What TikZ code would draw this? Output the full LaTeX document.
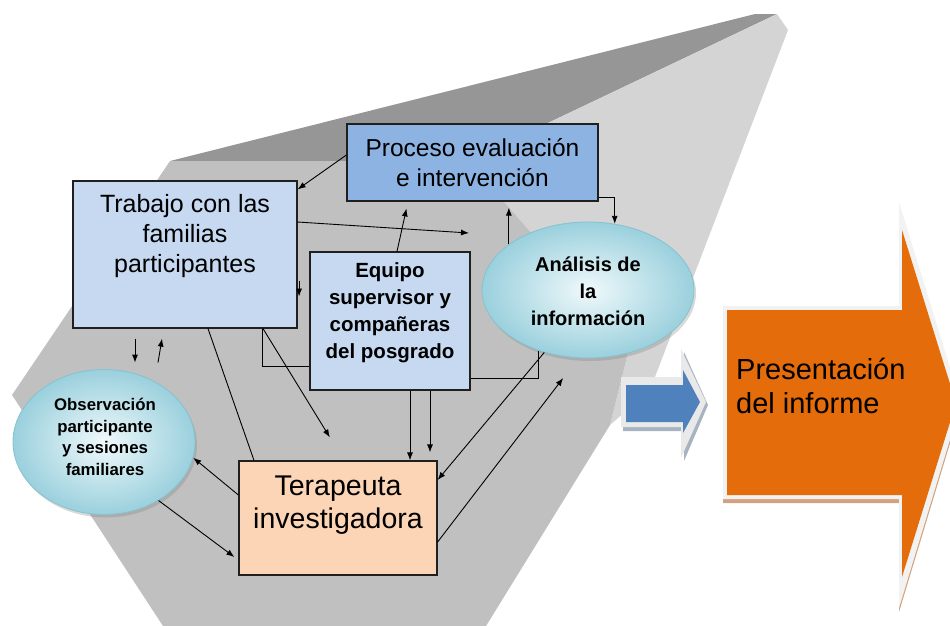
\documentclass[tikz,border=0pt]{standalone}
\usepackage{fontspec}
\setmainfont{Liberation Sans}
\usetikzlibrary{arrows.meta,shapes.geometric,shadows,calc}
\definecolor{gDark}{HTML}{969696}
\definecolor{gMid}{HTML}{C0C0C0}
\definecolor{gLight}{HTML}{D4D4D4}
\definecolor{boxLight}{HTML}{C6D9F1}
\definecolor{boxBlue}{HTML}{8DB3E2}
\definecolor{boxPeach}{HTML}{FBD5B5}
\definecolor{bubIn}{HTML}{F0F9FB}
\definecolor{bubOut}{HTML}{9AD0DD}
\definecolor{bubEdge}{HTML}{86C2D0}
\definecolor{arrBlue}{HTML}{4F81BD}
\definecolor{arrOrange}{HTML}{E46C0A}
\definecolor{arrTan}{HTML}{D2A27E}
\definecolor{glow}{HTML}{F2F2F2}
\begin{document}
\begin{tikzpicture}[x=1pt,y=-1pt,
  box/.style={rectangle, draw=black!88, line width=1.2pt, inner sep=0pt},
  txt/.style={align=center, inner sep=0pt, text=black},
  bubble/.style={ellipse, draw=bubEdge, line width=0.8pt, inner sep=0pt,
    inner color=bubIn, outer color=bubOut,
    drop shadow={shadow xshift=2pt, shadow yshift=-3pt, opacity=0.3}},
  conn/.style={line width=0.9pt, draw=black},
  arr/.style={conn, -{Latex[length=8pt,width=6pt]}}]
\useasboundingbox (0,0) rectangle (950,625);
\clip (0,0) rectangle (950,625);
% background 3D shape
\fill[gDark] (170,161) -- (755,14) -- (777,14) -- (468,161) -- cycle;
\fill[gLight] (468,161) -- (777,14) -- (788,30) -- (650,390) -- (610,425) -- (630,345) -- cycle;
\fill[gMid] (170,161) -- (468,161) -- (630,345) -- (610,425) -- (470,652) -- (180,652) -- (12,395) -- cycle;
% blue arrow
\fill[arrBlue!40!gray!60] (623,381) -- (684,381) -- (684,352) -- (708,405) -- (684,461) -- (684,431) -- (623,431) -- cycle;
\fill[glow!92!gray] (621,377) -- (681,377) -- (681,349) -- (706,402) -- (681,458) -- (681,427) -- (621,427) -- cycle;
\fill[arrBlue] (626,385) -- (683,385) -- (683,370) -- (700,402) -- (683,433) -- (683,422) -- (626,422) -- cycle;
% orange arrow
\fill[arrTan] (723,310) -- (899,310) -- (899,206) -- (961,407) -- (899,612) -- (899,503) -- (723,503) -- cycle;
\fill[glow] (723,306) -- (899,306) -- (899,202) -- (961,403) -- (899,608) -- (899,499) -- (723,499) -- cycle;
\fill[arrOrange] (727,310) -- (902,310) -- (902,230) -- (956,403) -- (902,577) -- (902,495) -- (727,495) -- cycle;
\node[txt, align=left, anchor=west, font={\fontsize{29}{34}\selectfont}] (pres) at (736,386) {Presentación\\del informe};
% boxes
\node[box, fill=boxLight, minimum width=224pt, minimum height=147pt] (trab) at (185,254.5) {};
\node[txt, font={\fontsize{25}{30}\selectfont}] (trabT) at (185,236) {Trabajo con las\\familias\\participantes};
\node[box, fill=boxBlue, minimum width=251pt, minimum height=77pt] (proc) at (472.5,162.5) {};
\node[txt, font={\fontsize{24.5}{30}\selectfont}] (procT) at (472.5,163) {Proceso evaluación\\e intervención};
\node[box, fill=boxLight, minimum width=160pt, minimum height=138pt] (equ) at (390,321) {};
\node[txt, font={\bfseries\fontsize{20.5}{27}\selectfont}] (equT) at (390,313) {Equipo\\supervisor y\\compañeras\\del posgrado};
\node[box, fill=boxPeach, minimum width=198pt, minimum height=114pt] (ter) at (338,518) {};
\node[txt, font={\fontsize{28.5}{33}\selectfont}] (terT) at (338,505) {Terapeuta\\investigadora};
% ellipses
\node[bubble, minimum width=212pt, minimum height=136pt] (ana) at (588,290) {};
\node[txt, font={\bfseries\fontsize{20}{27}\selectfont}] (anaT) at (588,291) {Análisis de\\la\\información};
\node[bubble, minimum width=182pt, minimum height=145pt] (obs) at (104,442) {};
\node[txt, font={\bfseries\fontsize{16.8}{21.5}\selectfont}] (obsT) at (105,437) {Observación\\participante\\y sesiones\\familiares};
% connectors
\coordinate (freeA) at (469,233);
\draw[arr] ([yshift=7.5pt]proc.west) -- ([yshift=-9pt]trab.north east);
\draw[arr] ([yshift=32.5pt]trab.east) -- (freeA);
\draw[arr, shorten >=7pt] ([xshift=7pt]equ.north) -- ([xshift=-64.5pt]proc.south);
\draw[arr, shorten >=6pt] (ana.150) -- (ana.150 |- proc.south);
\draw[arr] ([yshift=4pt]proc.south east) -| (ana.68);
\draw[arr] ([xshift=1.5pt,yshift=-26pt]trab.east) -- ([xshift=1.5pt,yshift=-42pt]trab.east);
\draw[arr] ([xshift=-50pt,yshift=-10pt]trab.south) -- ([xshift=-50pt,yshift=-34pt]trab.south);
\draw[arr] ([xshift=-27pt,yshift=-34pt]trab.south) -- ([xshift=-23pt,yshift=-10pt]trab.south);
\draw[conn] ([xshift=23pt]trab.south) -- ([xshift=-84pt]ter.north);
\draw[conn] ([xshift=77pt]trab.south) |- ([yshift=-45pt]equ.west);
\draw[arr, shorten >=27pt] ([xshift=78pt]trab.south) -- ([xshift=6pt]ter.north);
\draw[arr] ([xshift=20pt]equ.south) -- ([xshift=72pt]ter.north);
\draw[arr, shorten >=8pt] ([xshift=40pt]equ.south) -- ([xshift=92pt]ter.north);
\draw[conn] ([yshift=-57pt]equ.east) -| (ana.231);
\draw[arr] (ana.235) -- ([yshift=38pt]ter.east);
\draw[arr, shorten >=25pt] ([yshift=-24pt]ter.east) -- (ana.262);
\draw[arr] ([yshift=23pt]ter.west) -- (obs.-10);
\draw[arr, shorten >=5pt] (obs.-47) -- ([yshift=-42pt]ter.west);
\end{tikzpicture}
\end{document}
